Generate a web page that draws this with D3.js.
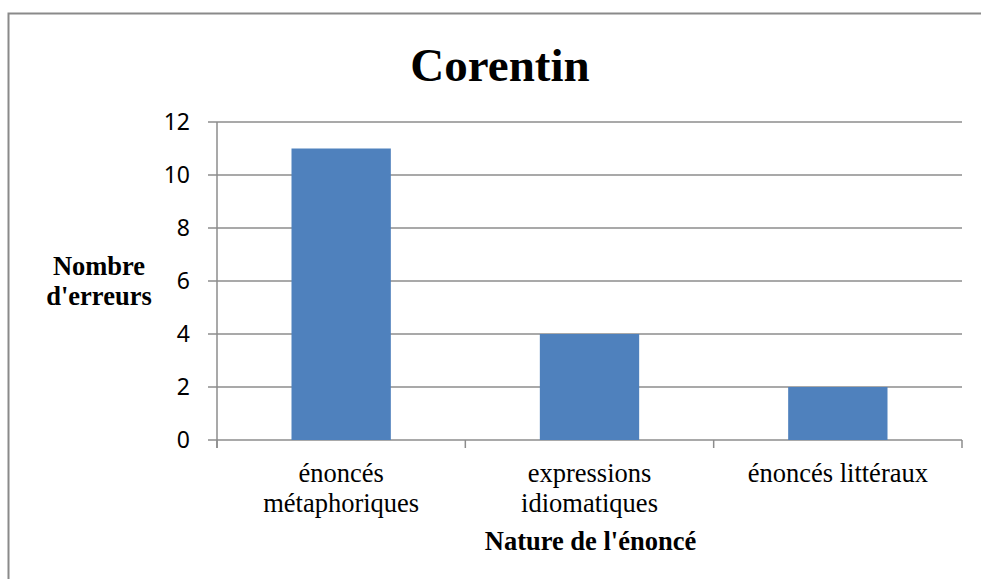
<!DOCTYPE html>
<html>
<head>
<meta charset="utf-8">
<script src="https://cdn.jsdelivr.net/npm/d3@7"></script>
<style>
    body { margin: 0; background: #fff; }
    svg { display: block; }
</style>
</head>
<body>
<div id="chart"></div>
<script>
const categories = ["énoncés\nmétaphoriques", "expressions\nidiomatiques", "énoncés littéraux"];
const values = [11, 4, 2];
const yTicks = [0, 2, 4, 6, 8, 10, 12];
const title = "Corentin";
const xTitle = "Nature de l'énoncé";
const yTitle = ["Nombre", "d'erreurs"];

const W = 981, H = 579;
const margin = {top: 122, right: 19, bottom: 139, left: 217},
    width = W - margin.left - margin.right,
    height = H - margin.top - margin.bottom;

const svg = d3.select("#chart").append("svg")
    .attr("width", W)
    .attr("height", H);

// chart frame (runs off the right and bottom edges)
svg.append("rect")
    .attr("x", 8.5).attr("y", 13.5)
    .attr("width", W + 10).attr("height", H + 10)
    .attr("fill", "none")
    .attr("stroke", "#8a8a8a")
    .attr("stroke-width", 2);

svg.append("text")
    .attr("x", 500).attr("y", 81)
    .attr("text-anchor", "middle")
    .attr("font-family", "'Liberation Serif', 'Times New Roman', serif")
    .attr("font-weight", "bold")
    .attr("font-size", 47)
    .text(title);

const g = svg.append("g")
    .attr("transform", "translate(" + margin.left + "," + margin.top + ")");

const x = d3.scaleBand()
    .domain(categories)
    .range([0, width])
    .paddingInner(0.6)
    .paddingOuter(0.3);

const y = d3.scaleLinear()
    .domain([0, 12])
    .range([height, 0]);

// gridlines
g.selectAll(".grid")
    .data(yTicks)
    .enter().append("line")
    .attr("class", "grid")
    .attr("x1", -9).attr("x2", width)
    .attr("y1", d => y(d)).attr("y2", d => y(d))
    .attr("stroke", "#8c8c8c")
    .attr("stroke-width", 1.5);

// y axis line
g.append("line")
    .attr("x1", 0).attr("x2", 0)
    .attr("y1", 0).attr("y2", height + 8)
    .attr("stroke", "#8c8c8c")
    .attr("stroke-width", 1.5);

// category ticks
const step = width / categories.length;
g.selectAll(".xtick")
    .data(d3.range(categories.length + 1))
    .enter().append("line")
    .attr("x1", d => d * step).attr("x2", d => d * step)
    .attr("y1", height).attr("y2", height + 8)
    .attr("stroke", "#8c8c8c")
    .attr("stroke-width", 1.5);

g.selectAll(".ylabel")
    .data(yTicks)
    .enter().append("text")
    .attr("x", -27)
    .attr("y", d => y(d))
    .attr("dy", "0.36em")
    .attr("text-anchor", "end")
    .attr("font-family", "'Noto Sans', sans-serif")
    .attr("font-size", 23)
    .attr("fill", "#000")
    .text(d => d);

g.selectAll(".bar")
    .data(values)
    .enter().append("rect")
    .attr("class", "bar")
    .attr("x", (d, i) => x(categories[i]))
    .attr("width", x.bandwidth())
    .attr("y", d => y(d))
    .attr("height", d => height - y(d))
    .attr("fill", "#4f81bd");

const serif = "'Liberation Serif', 'Times New Roman', serif";

const labels = g.selectAll(".xlabel")
    .data(categories)
    .enter().append("text")
    .attr("text-anchor", "middle")
    .attr("font-family", serif)
    .attr("font-size", 26.5)
    .attr("transform", d => "translate(" + (x(d) + x.bandwidth() / 2) + "," + (height + 42) + ")");

labels.selectAll("tspan")
    .data(d => d.split("\n"))
    .enter().append("tspan")
    .attr("x", 0)
    .attr("dy", (d, i) => i ? 30 : 0)
    .text(d => d);

g.append("text")
    .attr("x", width / 2 + 1)
    .attr("y", height + 110)
    .attr("text-anchor", "middle")
    .attr("font-family", serif)
    .attr("font-weight", "bold")
    .attr("font-size", 26.5)
    .text(xTitle);

svg.append("text")
    .attr("text-anchor", "middle")
    .attr("font-family", serif)
    .attr("font-weight", "bold")
    .attr("font-size", 26.5)
    .selectAll("tspan")
    .data(yTitle)
    .enter().append("tspan")
    .attr("x", 99)
    .attr("y", (d, i) => 275 + i * 30)
    .text(d => d);
</script>
</body>
</html>
